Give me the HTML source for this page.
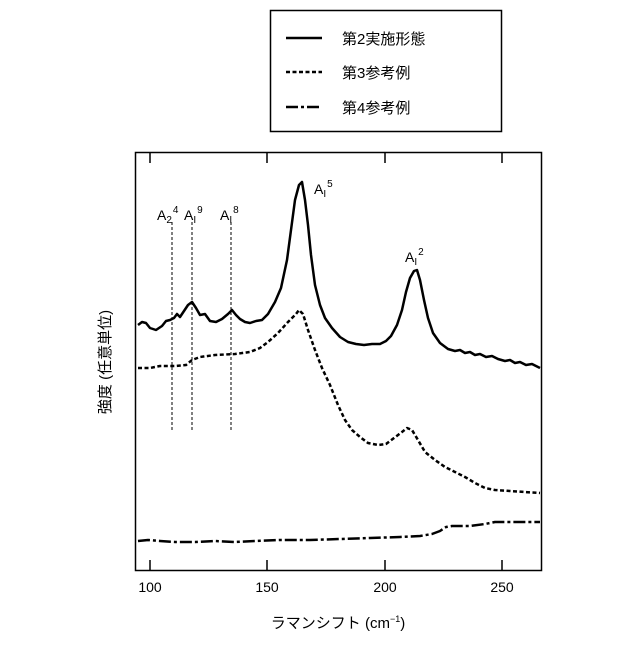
<!DOCTYPE html>
<html><head><meta charset="utf-8"><style>
body{margin:0;background:#fff}
svg text{font-family:"Liberation Sans","Noto Sans CJK JP",sans-serif;fill:#000}
</style></head><body>
<svg width="640" height="640" viewBox="0 0 640 640" xmlns="http://www.w3.org/2000/svg">
<rect x="270.5" y="10.5" width="231" height="121" fill="none" stroke="#000" stroke-width="1.5"/>
<line x1="286" y1="38" x2="322" y2="38" stroke="#000" stroke-width="2.5"/>
<line x1="286" y1="72" x2="322" y2="72" stroke="#000" stroke-width="2.5" stroke-dasharray="4,2.5"/>
<line x1="286" y1="107" x2="322" y2="107" stroke="#000" stroke-width="2.5" stroke-dasharray="12,3,3,3"/>
<text x="342" y="44" font-size="15">第2実施形態</text>
<text x="342" y="78" font-size="15">第3参考例</text>
<text x="342" y="113" font-size="15">第4参考例</text>

<rect x="135.5" y="152.5" width="406" height="418" fill="none" stroke="#000" stroke-width="1.5"/>
<g stroke="#000" stroke-width="1.5">
<line x1="150" y1="153" x2="150" y2="163"/><line x1="267" y1="153" x2="267" y2="163"/><line x1="385" y1="153" x2="385" y2="163"/><line x1="502" y1="153" x2="502" y2="163"/>
<line x1="150" y1="570" x2="150" y2="560"/><line x1="267" y1="570" x2="267" y2="560"/><line x1="385" y1="570" x2="385" y2="560"/><line x1="502" y1="570" x2="502" y2="560"/>
</g>
<g font-size="14" text-anchor="middle">
<text x="150" y="592">100</text><text x="267" y="592">150</text><text x="385" y="592">200</text><text x="502" y="592">250</text>
</g>
<text x="338" y="628" font-size="15" text-anchor="middle">ラマンシフト (cm<tspan font-size="9" dy="-6">−1</tspan><tspan dy="6">)</tspan></text>
<text transform="translate(110,362) rotate(-90)" font-size="15" text-anchor="middle">強度 (任意単位)</text>

<g stroke="#000" stroke-width="1" stroke-dasharray="3,2">
<line x1="172" y1="222" x2="172" y2="432"/><line x1="192" y1="222" x2="192" y2="432"/><line x1="231" y1="222" x2="231" y2="432"/>
</g>
<g font-size="14">
<text x="157" y="220">A<tspan font-size="10" dy="3">2</tspan><tspan font-size="10" dy="-10" dx="1">4</tspan></text>
<text x="184" y="220">A<tspan font-size="10" dy="3">I</tspan><tspan font-size="10" dy="-10" dx="1">9</tspan></text>
<text x="220" y="220">A<tspan font-size="10" dy="3">I</tspan><tspan font-size="10" dy="-10" dx="1">8</tspan></text>
<text x="314" y="194">A<tspan font-size="10" dy="3">I</tspan><tspan font-size="10" dy="-10" dx="1">5</tspan></text>
<text x="405" y="262">A<tspan font-size="10" dy="3">I</tspan><tspan font-size="10" dy="-10" dx="1">2</tspan></text>
</g>

<polyline fill="none" stroke="#000" stroke-width="2.5" stroke-linejoin="round" points="138,325 142,322 146,323 150,328 156,330 162,326 166,321 170,320 174,318 177,314 180,317 184,311 188,305 192,302 196,308 200,315 205,314 210,321 216,322 222,319 228,314 232,310 236,315 240,319 245,322 250,323 256,321 262,320 268,314 275,302 281,288 287,260 291,230 295,200 299,185 302,182 305,200 308,225 311,255 315,285 320,305 325,318 332,328 340,337 348,342 356,344 364,345 372,344 380,344 386,341 391,336 397,325 402,310 406,292 410,278 414,271 417,270 420,280 424,300 428,318 433,333 440,343 448,349 455,351 460,350 465,353 470,352 475,355 480,354 486,357 492,356 498,359 505,361 510,360 515,363 520,362 526,365 532,364 540,368"/>
<polyline fill="none" stroke="#000" stroke-width="2.5" stroke-dasharray="4,2.5" stroke-linejoin="round" points="138,368 150,368 160,366 175,366 186,365 192,360 200,357 215,355 235,354 250,352 260,348 268,342 278,333 288,322 296,314 299,310 303,314 308,330 315,350 322,368 330,385 338,405 345,420 352,430 360,437 368,443 378,445 386,444 394,438 402,432 407,428 412,430 418,440 425,452 435,460 445,467 455,472 465,477 475,483 485,488 495,490 510,491 525,492 540,493"/>
<polyline fill="none" stroke="#000" stroke-width="2.5" stroke-dasharray="12,3,3,3" stroke-linejoin="round" points="138,541 148,540 160,541 175,542 195,542 215,541 235,542 255,541 280,540 310,540 340,539 370,538 400,537 420,536 432,534 440,531 446,527 452,526 470,526 485,524 495,522 520,522 540,522"/>
</svg>
</body></html>
